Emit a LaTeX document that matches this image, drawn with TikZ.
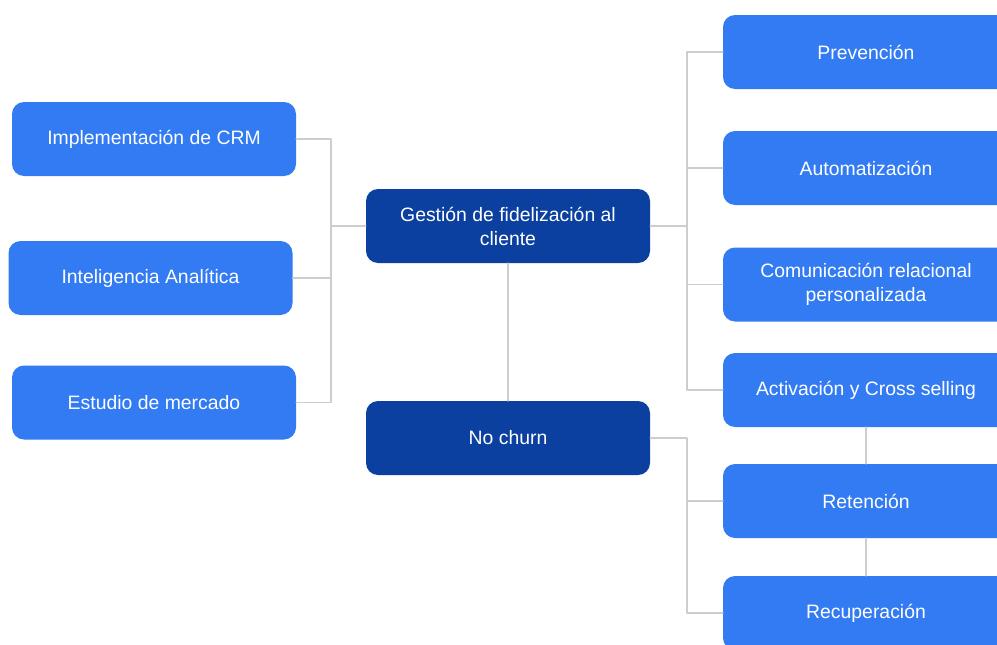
\documentclass[tikz,border=0pt]{standalone}
\usepackage{fontspec}
\setmainfont{Liberation Sans}
\usetikzlibrary{calc}
\definecolor{lightblue}{RGB}{50,123,242}
\definecolor{darkblue}{RGB}{11,64,160}
\definecolor{linkgray}{RGB}{205,205,205}

\begin{document}
\begin{tikzpicture}[x=1pt,y=-1pt,line join=round,line cap=round]
        \tikzset{box/.style={rectangle,rounded corners=12pt,minimum width=284pt,minimum height=74pt,inner sep=0pt,
                text=white,align=center,font=\fontsize{19.4}{24}\selectfont},
                leaf/.style={box,fill=lightblue},
                hub/.style={box,fill=darkblue},
                link/.style={draw=linkgray,line width=1.6pt}}
        \clip (0,0) rectangle (997,645);
        \fill[white] (0,0) rectangle (997,645);
        % left column
        \node[leaf] (crm) at (154,139) {Implementación de CRM};
        \node[leaf] (analitica) at (150.5,278) {Inteligencia Analítica};
        \node[leaf] (mercado) at (154,402.5) {Estudio de mercado};
        % middle column
        \node[hub] (gestion) at (508,226) {Gestión de fidelización al\\cliente};
        \node[hub] (churn) at (508,438) {No churn};
        % right column
        \node[leaf,minimum width=286pt] (prevencion) at (866,52) {Prevención};
        \node[leaf,minimum width=286pt] (automatizacion) at (866,168) {Automatización};
        \node[leaf,minimum width=286pt] (comunicacion) at (866,284.5) {Comunicación relacional\\personalizada};
        \node[leaf,minimum width=286pt] (activacion) at (866,390) {Activación y Cross selling};
        \node[leaf,minimum width=286pt] (retencion) at (866,501) {Retención};
        \node[leaf,minimum width=286pt] (recuperacion) at (866,613) {Recuperación};
        % buses
        \coordinate (lbus) at (331,0);
        \coordinate (rbus) at (687,0);
        \draw[link] (crm.east) -| (lbus |- mercado.east) -- (mercado.east);
        \draw[link] (analitica.east) -- (analitica.east -| lbus);
        \draw[link] (gestion.west) -- (gestion.west -| lbus);
        \draw[link] (prevencion.west) -| (rbus |- activacion.west) -- (activacion.west);
        \foreach \n in {automatizacion,comunicacion}
            \draw[link] (\n.west) -- (\n.west -| rbus);
        \draw[link] (gestion.east) -- (gestion.east -| rbus);
        \draw[link] (churn.east) -| (rbus |- recuperacion.west) -- (recuperacion.west);
        \draw[link] (retencion.west) -- (retencion.west -| rbus);
        \draw[link] (gestion.south) -- (churn.north);
        \draw[link] (activacion.south) -- (retencion.north);
        \draw[link] (retencion.south) -- (recuperacion.north);
\end{tikzpicture}
\end{document}
